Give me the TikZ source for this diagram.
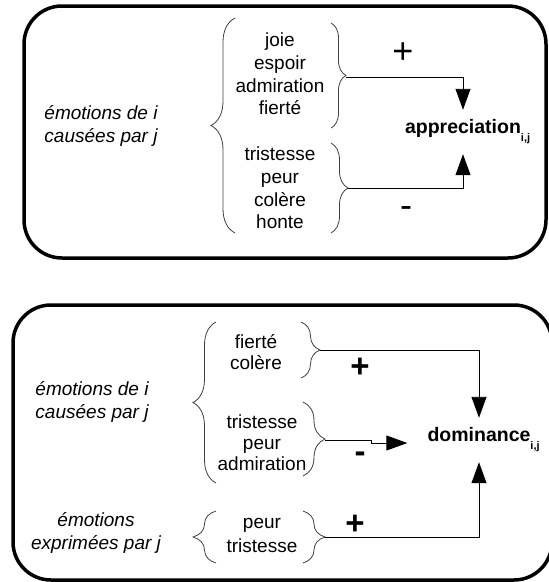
\documentclass[tikz,border=0pt]{standalone}
\usepackage{fontspec}
\setmainfont{Liberation Sans}
\usetikzlibrary{arrows.meta,decorations.pathreplacing,positioning}

\tikzset{
    cadre/.style={line width=3.5pt, rounded corners=38pt},
    grp/.style={align=center, inner sep=0pt, font=\fontsize{19}{22.7}\selectfont},
    grpb/.style={align=center, inner sep=0pt, font=\fontsize{19}{21}\selectfont},
    lbl/.style={align=center, inner sep=0pt, font=\fontsize{19}{23}\selectfont\itshape},
    cible/.style={font=\fontsize{19.5}{22}\selectfont\bfseries, minimum height=44pt, inner xsep=20pt},
    accol/.style={decorate, decoration={brace, amplitude=#1}, line width=0.8pt, black!75},
    conn/.style={line width=0.9pt, -{Triangle[length=21pt,width=15pt]}},
    signe/.style={inner sep=0pt, font=\fontsize{36}{36}\selectfont},
    signeb/.style={inner sep=0pt, font=\fontsize{33}{33}\selectfont\bfseries}
}
\newcommand{\indij}{\rlap{\raisebox{-8pt}{\fontsize{11}{11}\selectfont i,j}}}

\begin{document}
\begin{tikzpicture}[x=1pt, y=-1pt]
    \useasboundingbox (0,0) rectangle (549,582);

    % Appreciation
    \draw[cadre] (24,6) rectangle (546,258);
    \node[lbl] (causeA) at (101,126) {émotions de i\\causées par j};
    \node[grp] (posA) at (280,74) {joie\\espoir\\admiration\\fierté};
    \node[grp] (negA) at (280,188) {tristesse\\peur\\colère\\honte};
    \node[cible] (appr) at (463,132) {appreciation\indij};
    \draw[accol=24] (235,233) -- (235,18);
    \draw[accol=15] (331,23) -- (331,128);
    \draw[accol=17] (331,143) -- (331,233);
    \coordinate (posAtip) at (346,77);
    \coordinate (negAtip) at (348,188);
    \draw[conn] (posAtip) -| (appr.north);
    \draw[conn] (negAtip) -| (appr.south);
    \node[signe] (plusA) at (403,53) {+};
    \node[signe] (minA) at (406,212) {-};

    % Dominance
    \draw[cadre] (13,305) rectangle (552,580);
    \node[lbl] (causeB) at (92,402) {émotions de i\\causées par j};
    \node[lbl] (exprB) at (96,533) {émotions\\exprimées par j};
    \node[grpb] (posB) at (256,352) {fierté\\colère};
    \node[grpb] (negB) at (262,443) {tristesse\\peur\\admiration};
    \node[grpb, font=\fontsize{19}{24}\selectfont] (expB) at (262,535) {peur\\tristesse};
    \node[cible] (dom) at (479,440) {dominance\indij};
    \draw[accol=23] (216,483) -- (216,322);
    \draw[accol=19] (301,322) -- (301,378);
    \draw[accol=22] (303,402) -- (303,476);
    \draw[accol=23] (216,563) -- (216,511);
    \draw[accol=22] (303,511) -- (303,563);
    \coordinate (posBtip) at (320,350);
    \coordinate (negBtip) at (325,440);
    \coordinate (expBtip) at (325,537);
    \draw[conn] (posBtip) -| (dom.north);
    \draw[conn] (negBtip) -- ++(46,0) |- ([yshift=-3pt]dom.west);
    \draw[conn] (expBtip) -| (dom.south);
    \node[signeb] (plusB) at (360,368) {+};
    \node[signeb] (minB) at (360,457) {-};
    \node[signeb] (plusC) at (355,525) {+};
\end{tikzpicture}
\end{document}
